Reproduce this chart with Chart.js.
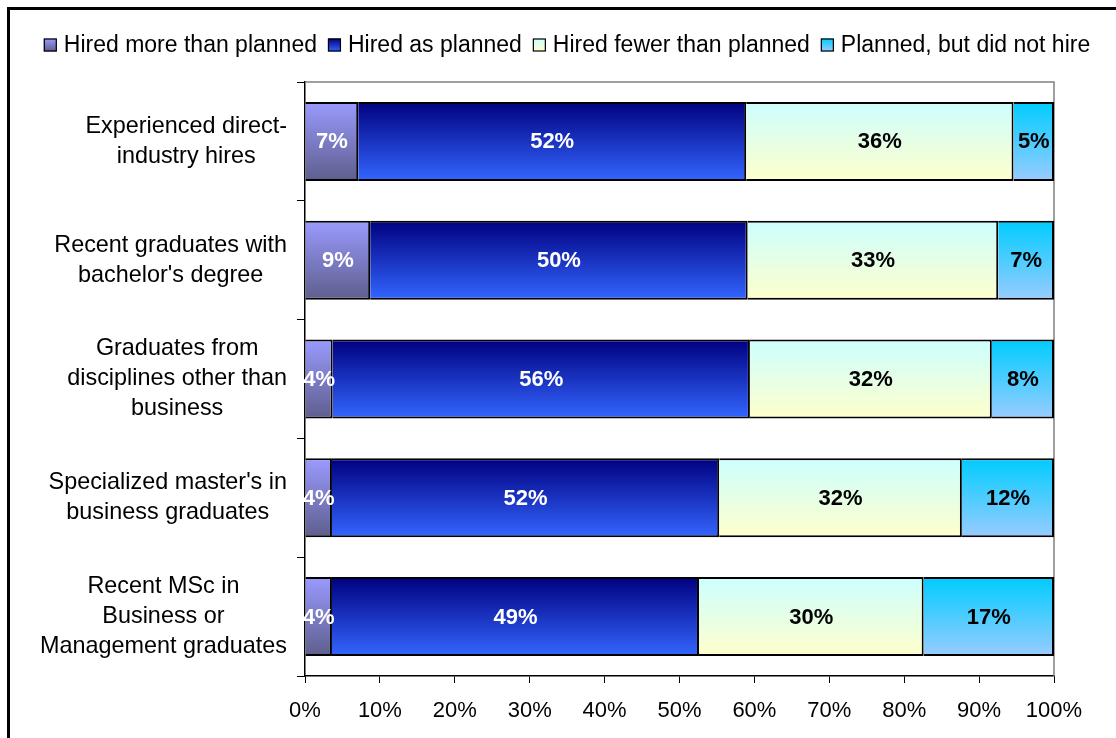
<!DOCTYPE html>
<html>
<head>
<meta charset="utf-8">
<script src="https://cdn.jsdelivr.net/npm/chart.js@4/dist/chart.umd.min.js"></script>
<style>
  html, body { margin: 0; padding: 0; background: #fff; overflow: hidden; }
  #frame { position: absolute; left: 7px; top: 7px; width: 1300px; height: 900px; border: 3px solid #000; }
  #chart { position: absolute; left: 0; top: 0; }
</style>
</head>
<body>
<div id="frame"></div>
<canvas id="chart" width="1116" height="738"></canvas>
<script>
const categories = [
    ['Experienced direct-', 'industry hires'],
    ['Recent graduates with', "bachelor's degree"],
    ['Graduates from', 'disciplines other than', 'business'],
    ["Specialized master's in", 'business graduates'],
    ['Recent MSc in', 'Business or', 'Management graduates'],
];
const seriesNames = ['Hired more than planned', 'Hired as planned', 'Hired fewer than planned', 'Planned, but did not hire'];
const hiredMore = [7.1, 8.7, 3.7, 3.6, 3.6];
const hiredAsPlanned = [51.8, 50.4, 55.7, 51.7, 49.0];
const hiredFewer = [35.7, 33.45, 32.3, 32.4, 30.0];
const didNotHire = [5.4, 7.45, 8.3, 12.3, 17.4];
const xTicks = [0, 10, 20, 30, 40, 50, 60, 70, 80, 90, 100];

const FONT = "Arial, 'Liberation Sans', sans-serif";
const BAR_PCT = 0.665;

// top / bottom colours of each vertical gradient
const gradColors = [
    ['#9a9aff', '#5e5e8c'],
    ['#000080', '#3366ff'],
    ['#ccffff', '#ffffcc'],
    ['#00ccff', '#99ccff'],
];
const labelColors = ['#fff', '#fff', '#000', '#000'];

function barGradient(i) {
    return (c) => {
        const chart = c.chart;
        const y = chart.scales.y;
        if (!chart.chartArea || !y || c.dataIndex === undefined) return gradColors[i][1];
        const cy = y.getPixelForValue(c.dataIndex);
        const h = y.height / categories.length * BAR_PCT / 2;
        const g = chart.ctx.createLinearGradient(0, cy - h, 0, cy + h);
        g.addColorStop(0, gradColors[i][0]);
        g.addColorStop(1, gradColors[i][1]);
        return g;
    };
}

const values = [hiredMore, hiredAsPlanned, hiredFewer, didNotHire];
const datasets = values.map((v, i) => ({
    label: seriesNames[i],
    data: v,
    backgroundColor: barGradient(i),
    borderColor: '#000',
    borderWidth: 2,
    barPercentage: BAR_PCT,
    categoryPercentage: 1,
}));

// gray frame on top and right of the plot area
const plotFrame = {
    id: 'plotFrame',
    beforeDatasetsDraw(chart) {
        const {ctx, chartArea: a} = chart;
        ctx.save();
        ctx.strokeStyle = '#808080';
        ctx.lineWidth = 1.5;
        ctx.beginPath();
        ctx.moveTo(a.left, a.top);
        ctx.lineTo(a.right, a.top);
        ctx.lineTo(a.right, a.bottom);
        ctx.stroke();
        ctx.restore();
    }
};

// percent labels inside the segments
const segLabels = {
    id: 'segLabels',
    afterDatasetsDraw(chart) {
        const ctx = chart.ctx;
        ctx.save();
        ctx.font = 'bold 22px ' + FONT;
        ctx.textAlign = 'center';
        ctx.textBaseline = 'middle';
        chart.data.datasets.forEach((ds, i) => {
            chart.getDatasetMeta(i).data.forEach((el, j) => {
                ctx.fillStyle = labelColors[i];
                ctx.fillText(Math.round(ds.data[j]) + '%', (el.x + el.base) / 2, el.y + 1);
            });
        });
        ctx.restore();
    }
};

// category labels, each block centred on itself, right edge near the axis
const catLabels = {
    id: 'catLabels',
    afterDraw(chart) {
        const ctx = chart.ctx;
        const y = chart.scales.y;
        ctx.save();
        ctx.font = '23.4px ' + FONT;
        ctx.fillStyle = '#000';
        ctx.textAlign = 'center';
        ctx.textBaseline = 'middle';
        const lh = 30;
        categories.forEach((lines, j) => {
            const w = Math.max(...lines.map(s => ctx.measureText(s).width));
            const cx = y.right - 18 - w / 2;
            const cy = y.getPixelForValue(j);
            lines.forEach((s, k) => {
                ctx.fillText(s, cx, cy + (k - (lines.length - 1) / 2) * lh);
            });
        });
        ctx.restore();
    }
};

// legend row at the top
const topLegend = {
    id: 'topLegend',
    afterDraw(chart) {
        const ctx = chart.ctx;
        ctx.save();
        ctx.font = '23px ' + FONT;
        ctx.textBaseline = 'middle';
        ctx.textAlign = 'left';
        const box = 13, gap = 7, itemGap = 11, cy = 45;
        const widths = seriesNames.map(s => ctx.measureText(s).width);
        const total = widths.reduce((a, b) => a + b, 0) + seriesNames.length * (box + gap) + (seriesNames.length - 1) * itemGap;
        let x = 567 - total / 2;
        seriesNames.forEach((s, i) => {
            const g = ctx.createLinearGradient(0, cy - box / 2, 0, cy + box / 2);
            g.addColorStop(0, gradColors[i][0]);
            g.addColorStop(1, gradColors[i][1]);
            ctx.fillStyle = g;
            ctx.fillRect(x, cy - box / 2, box, box);
            ctx.strokeStyle = '#000';
            ctx.lineWidth = 1.2;
            ctx.strokeRect(x + 0.5, cy - box / 2 + 0.5, box - 1, box - 1);
            ctx.fillStyle = '#000';
            ctx.fillText(s, x + box + gap, cy + 1);
            x += box + gap + widths[i] + itemGap;
        });
        ctx.restore();
    }
};

new Chart(document.getElementById('chart'), {
    type: 'bar',
    data: {
        labels: categories,
        datasets: datasets,
    },
    plugins: [plotFrame, segLabels, catLabels, topLegend],
    options: {
        responsive: false,
        animation: false,
        indexAxis: 'y',
        layout: {
            padding: {left: 0, right: 62, top: 82, bottom: 0}
        },
        scales: {
            x: {
                stacked: true,
                min: 0,
                max: 100,
                afterBuildTicks: (axis) => { axis.ticks = xTicks.map(v => ({value: v})); },
                afterFit: (axis) => { axis.height = 62; },
                ticks: {
                    callback: (v) => v + '%',
                    color: '#000',
                    font: {family: FONT, size: 22},
                    padding: 15,
                    maxRotation: 0,
                },
                grid: {
                    drawOnChartArea: false,
                    drawTicks: true,
                    tickLength: 7,
                    color: '#000',
                },
                border: {color: '#000', width: 1.5},
            },
            y: {
                stacked: true,
                afterFit: (axis) => { axis.width = 305; },
                ticks: {display: false},
                grid: {
                    offset: true,
                    drawOnChartArea: false,
                    drawTicks: true,
                    tickLength: 8,
                    color: '#000',
                },
                border: {color: '#000', width: 1.5},
            }
        },
        plugins: {
            legend: {display: false},
            tooltip: {enabled: false},
        }
    }
});
</script>
</body>
</html>
